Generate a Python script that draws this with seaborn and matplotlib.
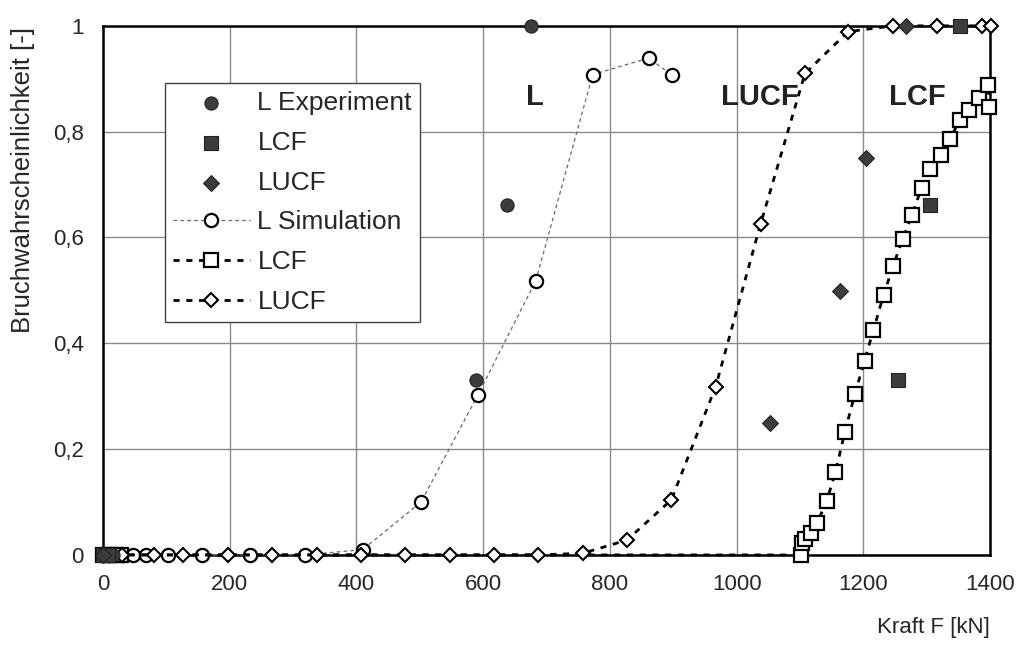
import matplotlib
matplotlib.use("Agg")
import matplotlib.pyplot as plt
import seaborn as sns
from matplotlib.ticker import MultipleLocator, FuncFormatter

# experiment results (filled markers)
l_exp_x = [0, 3, 6, 9, 12, 15, 588, 638, 676]
l_exp_y = [0, 0, 0, 0, 0, 0, 0.331, 0.662, 1.0]
lcf_exp_x = [0, 4, 8, 1255, 1306, 1353]
lcf_exp_y = [0, 0, 0, 0.331, 0.662, 1.0]
lucf_exp_x = [0, 1053, 1164, 1204, 1267]
lucf_exp_y = [0, 0.25, 0.499, 0.75, 1.0]

# simulation results (open markers + lines)
l_sim_x = [0, 8, 16, 31, 47, 68, 102, 156, 232, 319, 410, 502, 592, 683, 773, 861, 898]
l_sim_y = [0, 0, 0, 0, 0, 0, 0, 0, 0, 0, 0.01, 0.10, 0.303, 0.518, 0.908, 0.939, 0.907]
lcf_sim_x = [0, 10, 20, 28, 1101, 1103, 1108, 1117, 1127, 1142, 1156, 1171, 1187, 1202,
             1216, 1232, 1247, 1262, 1277, 1292, 1306, 1322, 1337, 1352, 1367, 1382, 1397, 1399]
lcf_sim_y = [0, 0, 0, 0, 0, 0.023, 0.03, 0.042, 0.060, 0.101, 0.156, 0.233, 0.305, 0.367,
             0.425, 0.491, 0.546, 0.597, 0.643, 0.694, 0.730, 0.756, 0.786, 0.822, 0.840, 0.863, 0.889, 0.847]
lucf_sim_x = [0, 12, 30, 80, 127, 197, 267, 337, 407, 477, 547, 617, 687, 757, 827, 897,
              967, 1038, 1108, 1176, 1247, 1317, 1387, 1401]
lucf_sim_y = [0, 0, 0, 0, 0, 0, 0, 0, 0, 0, 0, 0, 0, 0.003, 0.028, 0.104,
              0.318, 0.626, 0.910, 0.989, 1, 1, 1, 1]

x_ticks = [0, 200, 400, 600, 800, 1000, 1200, 1400]
region_labels = ["L", "LUCF", "LCF"]
region_x = [682, 1037, 1286]

sns.set_style("white")
plt.rcParams["font.family"] = ["Liberation Sans", "DejaVu Sans"]

fig = plt.figure(figsize=(10.26, 6.46), dpi=100)
ax = fig.add_axes([0.1004, 0.141, 0.8645, 0.819])

dark = "#3c3c3c"
sns.scatterplot(x=l_exp_x, y=l_exp_y, marker="o", s=90, color=dark, edgecolor="#222222",
                linewidth=0.8, clip_on=False, zorder=5, label="L Experiment", ax=ax)
sns.scatterplot(x=lcf_exp_x, y=lcf_exp_y, marker="s", s=90, color=dark, edgecolor="#222222",
                linewidth=0.8, clip_on=False, zorder=5, label="LCF", ax=ax)
sns.scatterplot(x=lucf_exp_x, y=lucf_exp_y, marker="D", s=65, color=dark, edgecolor="#222222",
                linewidth=0.8, clip_on=False, zorder=5, label="LUCF", ax=ax)

sns.lineplot(x=l_sim_x, y=l_sim_y, estimator=None, sort=False, color="#6a6a6a", lw=0.9,
             linestyle=(0, (3, 2.5)), marker="o", markersize=9.5, markerfacecolor="white",
             markeredgecolor="black", markeredgewidth=1.6, clip_on=False, zorder=4,
             label="L Simulation", ax=ax)
sns.lineplot(x=lcf_sim_x, y=lcf_sim_y, estimator=None, sort=False, color="black", lw=2.0,
             linestyle=(0, (2.2, 2.4)), marker="s", markersize=10, markerfacecolor="white",
             markeredgecolor="black", markeredgewidth=1.6, clip_on=False, zorder=4,
             label="LCF", ax=ax)
sns.lineplot(x=lucf_sim_x, y=lucf_sim_y, estimator=None, sort=False, color="black", lw=2.0,
             linestyle=(0, (2.2, 2.4)), marker="D", markersize=7.5, markerfacecolor="white",
             markeredgecolor="black", markeredgewidth=1.5, clip_on=False, zorder=4,
             label="LUCF", ax=ax)

ax.set_xlim(0, 1400)
ax.set_ylim(0, 1)
ax.set_xticks(x_ticks)
ax.set_yticks([0, 0.2, 0.4, 0.6, 0.8, 1.0])
ax.xaxis.set_minor_locator(MultipleLocator(40))
ax.yaxis.set_minor_locator(MultipleLocator(0.04))
ax.yaxis.set_major_formatter(FuncFormatter(lambda v, p: f"{v:g}".replace(".", ",")))
ax.tick_params(which="both", direction="in", length=4, width=0.8, color="#333333")
ax.tick_params(which="major", labelsize=16, pad=14)
ax.grid(True, which="major", color="#8a8a8a", lw=1.0)
for side in ["left", "bottom", "top", "right"]:
    ax.spines[side].set_color("black")
    ax.spines[side].set_linewidth(1.8)
ax.set_xlabel("")
ax.set_ylabel("")

for name, xpos in zip(region_labels, region_x):
    ax.text(xpos, 0.866, name, fontsize=21, fontweight="bold", ha="center", va="center",
            color="#222222")

leg = ax.legend(loc="upper left", bbox_to_anchor=(0.070, 0.892), borderaxespad=0,
                fontsize=19, frameon=True, fancybox=False, framealpha=1,
                edgecolor="#444444", handlelength=2.9, handletextpad=0.3,
                labelspacing=0.6, borderpad=0.3, numpoints=1, scatterpoints=1)
leg.get_frame().set_linewidth(1.0)

fig.text(0.022, 0.722, "Bruchwahrscheinlichkeit [-]", rotation=90, fontsize=18.5,
         ha="center", va="center")
fig.text(0.965, 0.028, "Kraft F [kN]", fontsize=16, ha="right", va="center")

fig.savefig("out.png", dpi=100)
